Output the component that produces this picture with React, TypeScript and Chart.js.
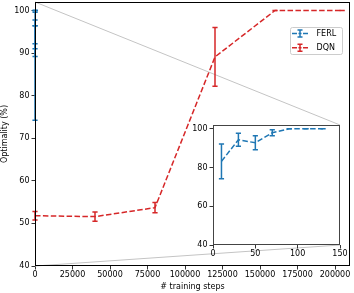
import React, { useEffect, useRef } from 'react';
import { Chart, registerables } from 'chart.js';

Chart.register(...registerables);

// ---- data ----
const dqnSteps = [0, 40000, 80000, 120000, 160000, 204800];
const dqnOptimality = [51.8, 51.6, 53.7, 89.1, 100, 100];
const dqnError = [1.0, 1.1, 1.2, 6.9, 0, 0];

const ferlSteps = [10, 30, 50, 70, 90, 110, 130];
const ferlOptimality = [83.2, 94.4, 92.8, 98.0, 100, 100, 100];
const ferlError = [9.0, 3.4, 3.6, 1.6, 0, 0, 0];

const seriesLabels = ['FERL', 'DQN'];
const xTitle = '# training steps';
const yTitle = 'Optimality (%)';

const mainXTicks = [0, 25000, 50000, 75000, 100000, 125000, 150000, 175000, 200000];
const mainYTicks = [40, 50, 60, 70, 80, 90, 100];
const insetXTicks = [0, 50, 100, 150];
const insetYTicks = [40, 60, 80, 100];

const BLUE = '#1f77b4';
const RED = '#d62728';
const FONT = { family: 'DejaVu Sans', size: 8 };

const W = 354;
const H = 293;

const toPoints = (xs: number[], ys: number[]) => xs.map((x, i) => ({ x, y: ys[i] }));

const makeDatasets = (withDqn: boolean) => {
  const ds: any[] = [
    {
      label: seriesLabels[0],
      data: toPoints(ferlSteps, ferlOptimality),
      errorBars: ferlError,
      borderColor: BLUE,
      backgroundColor: BLUE,
      borderWidth: 1.5,
      borderDash: [5.5, 2.4],
      showLine: true,
      pointRadius: 0,
      tension: 0,
      fill: false,
    },
  ];
  if (withDqn) {
    ds.push({
      label: seriesLabels[1],
      data: toPoints(dqnSteps, dqnOptimality),
      errorBars: dqnError,
      borderColor: RED,
      backgroundColor: RED,
      borderWidth: 1.5,
      borderDash: [5.5, 2.4],
      showLine: true,
      pointRadius: 0,
      tension: 0,
      fill: false,
    });
  }
  return ds;
};

const CAP = 2.6;

const errorBarPlugin = {
  id: 'errorBars',
  afterDatasetDraw(chart: any, args: any) {
    const ds = chart.data.datasets[args.index];
    const errs: number[] | undefined = ds.errorBars;
    if (!errs) return;
    const { ctx } = chart;
    const xs = chart.scales.x;
    const ys = chart.scales.y;
    ctx.save();
    ctx.strokeStyle = ds.borderColor;
    ctx.lineWidth = 1.5;
    ctx.setLineDash([]);
    ds.data.forEach((p: any, j: number) => {
      const px = xs.getPixelForValue(p.x);
      const y1 = ys.getPixelForValue(p.y - errs[j]);
      const y2 = ys.getPixelForValue(p.y + errs[j]);
      ctx.beginPath();
      ctx.moveTo(px, y1);
      ctx.lineTo(px, y2);
      ctx.moveTo(px - CAP, y1);
      ctx.lineTo(px + CAP, y1);
      ctx.moveTo(px - CAP, y2);
      ctx.lineTo(px + CAP, y2);
      ctx.stroke();
    });
    ctx.restore();
  },
};

const framePlugin = (color: string, fillBg: boolean) => ({
  id: 'frame',
  beforeDraw(chart: any) {
    if (!fillBg) return;
    const { ctx, chartArea: a } = chart;
    ctx.save();
    ctx.fillStyle = '#ffffff';
    ctx.fillRect(a.left, a.top, a.right - a.left, a.bottom - a.top);
    ctx.restore();
  },
  afterDraw(chart: any) {
    const { ctx, chartArea: a } = chart;
    ctx.save();
    ctx.strokeStyle = color;
    ctx.lineWidth = 1;
    ctx.setLineDash([]);
    ctx.strokeRect(Math.round(a.left) + 0.5, Math.round(a.top) + 0.5, Math.round(a.right - a.left) - 1, Math.round(a.bottom - a.top) - 1);
    ctx.restore();
  },
});

const axisX = (min: number, max: number, tickVals: number[], height: number, title?: string) => ({
  type: 'linear',
  min,
  max,
  afterBuildTicks(s: any) {
    s.ticks = tickVals.map((v) => ({ value: v }));
  },
  ticks: {
    autoSkip: false,
    maxRotation: 0,
    padding: 1,
    color: '#000',
    font: FONT,
    callback: (v: any) => String(v),
  },
  grid: { drawOnChartArea: false, drawTicks: true, tickLength: 3.5, tickWidth: 0.8, tickColor: '#000' },
  border: { display: false },
  title: title
    ? { display: true, text: title, color: '#000', font: FONT, padding: { top: 0, bottom: 1 } }
    : { display: false },
  afterFit(s: any) {
    s.height = height;
    s.paddingLeft = 0;
    s.paddingRight = 0;
  },
});

const axisY = (min: number, max: number, tickVals: number[], width: number, title?: string) => ({
  type: 'linear',
  min,
  max,
  afterBuildTicks(s: any) {
    s.ticks = tickVals.map((v) => ({ value: v }));
  },
  ticks: {
    autoSkip: false,
    padding: 2,
    color: '#000',
    font: FONT,
    callback: (v: any) => String(v),
  },
  grid: { drawOnChartArea: false, drawTicks: true, tickLength: 3.5, tickWidth: 0.8, tickColor: '#000' },
  border: { display: false },
  title: title
    ? { display: true, text: title, color: '#000', font: FONT, padding: { top: 0, bottom: 0 } }
    : { display: false },
  afterFit(s: any) {
    s.width = width;
    s.paddingTop = 0;
    s.paddingBottom = 0;
  },
});

export default function App() {
  const mainRef = useRef<HTMLCanvasElement | null>(null);
  const insetRef = useRef<HTMLCanvasElement | null>(null);

  useEffect(() => {
    document.body.style.margin = '0';
    if (!mainRef.current || !insetRef.current) return;

    const inset: any = new Chart(insetRef.current, {
      type: 'scatter',
      data: { datasets: makeDatasets(false) },
      options: {
        animation: false,
        responsive: false,
        events: [],
        layout: { padding: { left: 191, top: 125, right: 14, bottom: 34 } },
        plugins: { legend: { display: false }, tooltip: { enabled: false } },
        scales: {
          x: axisX(0, 150, insetXTicks, 14) as any,
          y: axisY(40, 102, insetYTicks, 22) as any,
        },
      },
      plugins: [framePlugin('#444444', true), errorBarPlugin],
    } as any);

    const connectorPlugin = {
      id: 'connectors',
      beforeDatasetsDraw(chart: any) {
        const { ctx } = chart;
        const xs = chart.scales.x;
        const ys = chart.scales.y;
        const ia = inset.chartArea;
        const px = xs.getPixelForValue(inset.scales.x.min);
        const pTop = ys.getPixelForValue(inset.scales.y.max);
        const pBot = ys.getPixelForValue(inset.scales.y.min);
        ctx.save();
        ctx.strokeStyle = '#c4c4c4';
        ctx.lineWidth = 1;
        ctx.beginPath();
        ctx.moveTo(px, pTop);
        ctx.lineTo(ia.right, ia.top);
        ctx.moveTo(px, pBot);
        ctx.lineTo(ia.right, ia.bottom);
        ctx.stroke();
        ctx.restore();
      },
    };

    const legendPlugin = {
      id: 'customLegend',
      afterDraw(chart: any) {
        const { ctx, chartArea: a } = chart;
        const right = a.right - 8;
        const top = a.top + 25;
        const w = 52;
        const h = 27;
        const left = right - w;
        ctx.save();
        ctx.fillStyle = 'rgba(255,255,255,0.8)';
        ctx.strokeStyle = '#cccccc';
        ctx.lineWidth = 1;
        ctx.beginPath();
        if ((ctx as any).roundRect) (ctx as any).roundRect(left + 0.5, top + 0.5, w, h, 2);
        else ctx.rect(left + 0.5, top + 0.5, w, h);
        ctx.fill();
        ctx.stroke();
        chart.data.datasets.forEach((ds: any, i: number) => {
          const cy = top + 6.5 + i * 14.3;
          const hx = left + 2;
          const cx = hx + 8;
          ctx.strokeStyle = ds.borderColor;
          ctx.lineWidth = 1.5;
          ctx.beginPath();
          ctx.moveTo(hx, cy);
          ctx.lineTo(hx + 5, cy);
          ctx.moveTo(hx + 11, cy);
          ctx.lineTo(hx + 16, cy);
          ctx.moveTo(cx, cy - 3.5);
          ctx.lineTo(cx, cy + 3.5);
          ctx.moveTo(cx - 2.5, cy - 3.5);
          ctx.lineTo(cx + 2.5, cy - 3.5);
          ctx.moveTo(cx - 2.5, cy + 3.5);
          ctx.lineTo(cx + 2.5, cy + 3.5);
          ctx.moveTo(cx - 1.5, cy);
          ctx.lineTo(cx + 1.5, cy);
          ctx.stroke();
          ctx.fillStyle = '#000';
          ctx.font = `${FONT.size}px ${FONT.family}`;
          ctx.textBaseline = 'middle';
          ctx.textAlign = 'left';
          ctx.fillText(ds.label, hx + 24.5, cy + 0.5);
        });
        ctx.restore();
      },
    };

    const main = new Chart(mainRef.current, {
      type: 'scatter',
      data: { datasets: makeDatasets(true) },
      options: {
        animation: false,
        responsive: false,
        events: [],
        layout: { padding: { left: 0, top: 2, right: 4, bottom: 0 } },
        plugins: { legend: { display: false }, tooltip: { enabled: false } },
        scales: {
          x: axisX(0, 210000, mainXTicks, 27, xTitle) as any,
          y: axisY(40, 102, mainYTicks, 35, yTitle) as any,
        },
      },
      plugins: [connectorPlugin, errorBarPlugin, framePlugin('#000000', false), legendPlugin],
    } as any);

    return () => {
      main.destroy();
      inset.destroy();
    };
  }, []);

  return (
    <div style={{ position: 'fixed', left: 0, top: 0, width: W, height: H, background: '#fff' }}>
      <canvas ref={mainRef} width={W} height={H} style={{ position: 'absolute', left: 0, top: 0 }} />
      <canvas ref={insetRef} width={W} height={H} style={{ position: 'absolute', left: 0, top: 0 }} />
    </div>
  );
}
